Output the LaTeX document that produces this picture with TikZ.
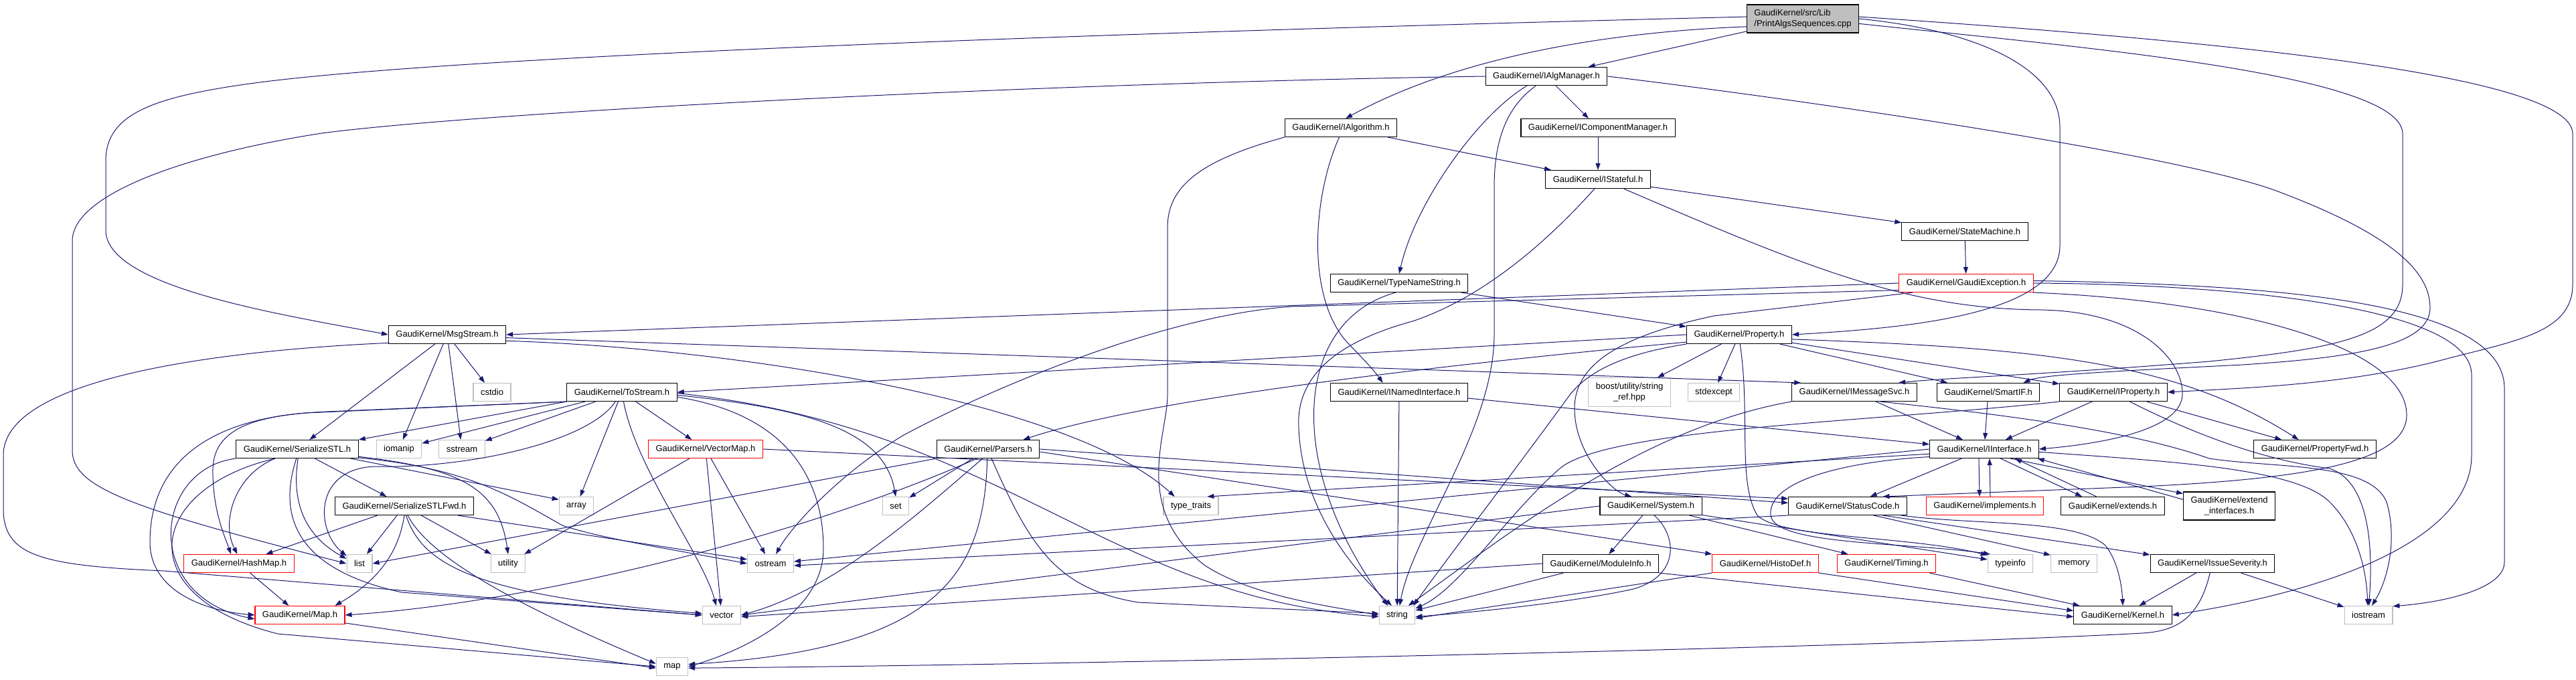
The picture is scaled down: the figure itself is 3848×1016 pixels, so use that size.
\documentclass[tikz,border=0pt]{standalone}
\usepackage{fontspec}
\setmainfont{Liberation Sans}
\usetikzlibrary{arrows.meta}
\definecolor{eblue}{HTML}{191970}
\definecolor{gborder}{HTML}{BFBFBF}
\begin{document}
\begin{tikzpicture}[x=1pt,y=-1pt,
 nd/.style={draw=black,line width=1.1pt,rectangle,inner xsep=11pt,inner ysep=0pt,minimum height=27pt,font=\fontsize{13}{16}\selectfont},
 rd/.style={nd,draw=red},
 gy/.style={nd,draw=gborder},
 e/.style={draw=eblue,line width=1pt,-{Triangle[length=10pt,width=7pt]}}]
\useasboundingbox (0,0) rectangle (3848,1016);
% ---------- nodes ----------
\node[nd,fill=gborder,minimum height=42pt,align=left] (root) at (2693,28) {GaudiKernel/src/Lib\\/PrintAlgsSequences.cpp};
\node[nd] (IAlgManager) at (2310,114) {GaudiKernel/IAlgManager.h};
\node[nd] (IAlgorithm) at (2003,191) {GaudiKernel/IAlgorithm.h};
\node[nd] (ICompMgr) at (2387,191) {GaudiKernel/IComponentManager.h};
\node[nd] (IStateful) at (2387,268) {GaudiKernel/IStateful.h};
\node[nd] (StateMachine) at (2935,346) {GaudiKernel/StateMachine.h};
\node[nd] (TypeNameString) at (2090,423) {GaudiKernel/TypeNameString.h};
\node[rd] (GaudiException) at (2937,423) {GaudiKernel/GaudiException.h};
\node[nd] (MsgStream) at (668,500) {GaudiKernel/MsgStream.h};
\node[nd] (Property) at (2598,500) {GaudiKernel/Property.h};
\node[gy] (cstdio) at (735,586) {cstdio};
\node[nd] (ToStream) at (929,586) {GaudiKernel/ToStream.h};
\node[nd] (INamedInterface) at (2090,586) {GaudiKernel/INamedInterface.h};
\node[gy,minimum height=43pt,align=center] (boost) at (2434,586) {boost/utility/string\\\_ref.hpp};
\node[gy] (stdexcept) at (2560,586) {stdexcept};
\node[nd] (IMessageSvc) at (2770,586) {GaudiKernel/IMessageSvc.h};
\node[nd] (SmartIF) at (2970,586) {GaudiKernel/SmartIF.h};
\node[nd] (IProperty) at (3157,586) {GaudiKernel/IProperty.h};
\node[nd] (SerializeSTL) at (444,671) {GaudiKernel/SerializeSTL.h};
\node[gy] (iomanip) at (596,671) {iomanip};
\node[gy] (sstream) at (690,671) {sstream};
\node[rd] (VectorMap) at (1054,671) {GaudiKernel/VectorMap.h};
\node[nd] (Parsers) at (1476,671) {GaudiKernel/Parsers.h};
\node[nd] (IInterface) at (2964,671) {GaudiKernel/IInterface.h};
\node[nd] (PropertyFwd) at (3458,671) {GaudiKernel/PropertyFwd.h};
\node[nd] (SerializeSTLFwd) at (604,756) {GaudiKernel/SerializeSTLFwd.h};
\node[gy] (array) at (861,756) {array};
\node[gy] (set) at (1338,756) {set};
\node[gy] (typetraits) at (1779,756) {type\_traits};
\node[nd] (System) at (2466,756) {GaudiKernel/System.h};
\node[nd] (StatusCode) at (2760,756) {GaudiKernel/StatusCode.h};
\node[rd] (implements) at (2965,756) {GaudiKernel/implements.h};
\node[nd] (extends) at (3156,756) {GaudiKernel/extends.h};
\node[nd,minimum height=42pt,align=center] (extendif) at (3330,756) {GaudiKernel/extend\\\_interfaces.h};
\node[rd] (HashMap) at (357,842) {GaudiKernel/HashMap.h};
\node[gy] (list) at (537,842) {list};
\node[gy] (utility) at (759,842) {utility};
\node[gy] (ostream) at (1151,842) {ostream};
\node[nd] (ModuleInfo) at (2391,842) {GaudiKernel/ModuleInfo.h};
\node[rd] (HistoDef) at (2637,842) {GaudiKernel/HistoDef.h};
\node[rd] (Timing) at (2818,842) {GaudiKernel/Timing.h};
\node[gy] (typeinfo) at (3003,842) {typeinfo};
\node[gy] (memory) at (3098,842) {memory};
\node[nd] (IssueSeverity) at (3305,842) {GaudiKernel/IssueSeverity.h};
\node[rd] (Map) at (448,919) {GaudiKernel/Map.h};
\node[gy] (vector) at (1078,919) {vector};
\node[gy] (string) at (2087,919) {string};
\node[nd] (Kernel) at (3171,919) {GaudiKernel/Kernel.h};
\node[gy] (iostream) at (3538,919) {iostream};
\node[gy] (map) at (1004,996) {map};
% ---------- root ----------
\draw[e] (root) -- (IAlgManager);
\draw[e] (root.188) .. controls (2350,50) and (2150,100) .. (IAlgorithm.63);
\draw[e] (root.178) .. controls (1800,45) and (700,80) .. (373,125) .. controls (230,145) and (158,170) .. (158,240) -- (158,347) .. controls (165,430) and (420,470) .. (MsgStream.west);
\draw[e] (root.east) .. controls (2950,45) and (3077,100) .. (3077,190) -- (3077,367) .. controls (3077,470) and (2850,490) .. (Property.east);
\draw[e] (root.-5) .. controls (3100,70) and (3589,110) .. (3589,200) -- (3589,425) .. controls (3589,500) and (3500,520) .. (3300,540) .. controls (3050,560) and (2900,565) .. (IMessageSvc.12);
\draw[e] (root.2) .. controls (3300,60) and (3843,110) .. (3843,200) -- (3843,425) .. controls (3843,500) and (3750,510) .. (3640,540) .. controls (3500,575) and (3350,580) .. (IProperty.east);
% ---------- IAlgManager ----------
\draw[e] (IAlgManager) -- (ICompMgr);
\draw[e] (IAlgManager.206) .. controls (2210,170) and (2115,300) .. (TypeNameString.north);
\draw[e] (IAlgManager.222) .. controls (2250,160) and (2232,210) .. (2232,280) -- (2232,500) .. controls (2232,640) and (2110,800) .. (string.75);
\draw[e] (IAlgManager.west) .. controls (1500,125) and (700,170) .. (481,199) .. controls (280,230) and (108,290) .. (108,360) -- (108,673) .. controls (108,730) and (200,760) .. (list.west);
\draw[e] (IAlgManager.east) .. controls (2700,150) and (3250,230) .. (3400,285) .. controls (3560,345) and (3630,400) .. (3630,460) .. controls (3630,520) and (3500,535) .. (3350,545) .. controls (3150,555) and (3050,560) .. (SmartIF.15);
% ---------- IAlgorithm ----------
\draw[e] (IAlgorithm) -- (IStateful);
\draw[e] (IAlgorithm.260) .. controls (1962,290) and (1950,440) .. (2011,510) .. controls (2030,530) and (2050,550) .. (INamedInterface.150);
\draw[e] (IAlgorithm.south west) .. controls (1790,240) and (1744,280) .. (1744,340) -- (1744,590) .. controls (1744,650) and (1690,760) .. (1800,845) .. controls (1870,890) and (1980,905) .. (string.west);
\draw[e] (ICompMgr) -- (IStateful);
% ---------- IStateful ----------
\draw[e] (IStateful) -- (StateMachine);
\draw[e] (IStateful.-20) .. controls (2700,400) and (2850,462) .. (3050,463) .. controls (3200,466) and (3262,540) .. (3260,590) .. controls (3258,640) and (3150,662) .. (IInterface.east);
\draw[e] (IStateful.250) .. controls (2330,340) and (2230,440) .. (2110,480) .. controls (2000,510) and (1935,560) .. (1940,640) .. controls (1945,760) and (2020,850) .. (string.120);
\draw[e] (StateMachine) -- (GaudiException);
% ---------- GaudiException ----------
\draw[e] (GaudiException.west) -- (MsgStream.east);
\draw[e] (GaudiException.186) -- (1930,458) .. controls (1750,470) and (1500,570) .. (1350,650) .. controls (1250,710) and (1180,790) .. (ostream.60);
\draw[e] (GaudiException.190) -- (2560,472) .. controls (2430,500) and (2352,540) .. (2352,610) .. controls (2352,680) and (2410,735) .. (System.154);
\draw[e] (GaudiException.east) .. controls (3350,425) and (3692,460) .. (3692,560) -- (3692,680) .. controls (3692,800) and (3500,880) .. (Kernel.east);
\draw[e] (GaudiException.2) .. controls (3400,425) and (3741,450) .. (3741,580) -- (3741,840) .. controls (3741,880) and (3650,900) .. (iostream.20);
\draw[e] (GaudiException.-8) .. controls (3350,450) and (3595,520) .. (3595,620) .. controls (3595,690) and (3450,715) .. (3200,727) -- (StatusCode.15);
% ---------- TypeNameString ----------
\draw[e] (TypeNameString) -- (Property);
\draw[e] (TypeNameString.250) .. controls (1930,480) and (1920,700) .. (string.135);
% ---------- MsgStream ----------
\draw[e] (MsgStream) -- (cstdio);
\draw[e] (MsgStream) -- (sstream);
\draw[e] (MsgStream) -- (iomanip);
\draw[e] (MsgStream) -- (SerializeSTL);
\draw[e] (MsgStream.188) .. controls (300,525) and (5,570) .. (5,680) -- (5,760) .. controls (5,830) and (60,845) .. (245,853) -- (vector.west);
\draw[e] (MsgStream.-3) -- (IMessageSvc.170);
\draw[e] (MsgStream.-6) .. controls (1100,520) and (1600,600) .. (typetraits.150);
% ---------- Property ----------
\draw[e] (Property.west) -- (ToStream.east);
\draw[e] (Property.188) .. controls (2100,550) and (1700,600) .. (Parsers.15);
\draw[e] (Property) -- (boost);
\draw[e] (Property) -- (stdexcept);
\draw[e] (Property) -- (SmartIF);
\draw[e] (Property) -- (IProperty);
\draw[e] (Property.-5) .. controls (3050,520) and (3250,540) .. (PropertyFwd.150);
\draw[e] (Property.south west) .. controls (2450,525) and (2380,545) .. (2345,590) .. controls (2250,720) and (2150,850) .. (string.30);
\draw[e] (Property.275) .. controls (2615,620) and (2595,720) .. (2625,770) .. controls (2660,805) and (2850,800) .. (typeinfo.160);
% ---------- ToStream ----------
\draw[e] (ToStream) -- (sstream);
\draw[e] (ToStream) -- (iomanip);
\draw[e] (ToStream.south west) -- (SerializeSTL.north east);
\draw[e] (ToStream.south west) -- (489,615) .. controls (380,620) and (320,640) .. (318,700) .. controls (317,760) and (335,800) .. (HashMap.130);
\draw[e] (ToStream.south west) -- (456,617) .. controls (300,630) and (224,700) .. (224,810) .. controls (224,880) and (300,912) .. (Map.west);
\draw[e] (ToStream.235) .. controls (880,660) and (700,700) .. (560,697) .. controls (470,700) and (470,790) .. (list.150);
\draw[e] (ToStream) -- (array);
\draw[e] (ToStream.-80) .. controls (950,700) and (1050,830) .. (vector.120);
\draw[e] (ToStream) -- (VectorMap);
\draw[e] (ToStream.-5) .. controls (1180,620) and (1230,720) .. (1230,820) .. controls (1230,920) and (1100,975) .. (map.east);
\draw[e] (ToStream.-3) .. controls (1200,610) and (1320,640) .. (set.north);
\draw[e] (ToStream.-1) .. controls (1500,640) and (1650,890) .. (string.185);
% ---------- SerializeSTL ----------
\draw[e] (SerializeSTL) -- (SerializeSTLFwd);
\draw[e] (SerializeSTL.203) .. controls (350,710) and (330,780) .. (HashMap.100);
\draw[e] (SerializeSTL.south west) .. controls (230,700) and (210,890) .. (Map.185);
\draw[e] (SerializeSTL.203) .. controls (220,730) and (190,890) .. (415,947) -- (map.west);
\draw[e] (SerializeSTL.265) .. controls (415,770) and (440,850) .. (600,885) -- (vector.west);
\draw[e] (SerializeSTL.275) .. controls (435,750) and (455,800) .. (list.160);
\draw[e] (SerializeSTL.-10) -- (array.160);
\draw[e] (SerializeSTL.-8) .. controls (700,700) and (760,740) .. (840,785) .. controls (900,805) and (1000,820) .. (ostream.west);
\draw[e] (SerializeSTL.-7) .. controls (690,700) and (745,730) .. (utility.north);
% ---------- SerializeSTLFwd ----------
\draw[e] (SerializeSTLFwd) -- (HashMap);
\draw[e] (SerializeSTLFwd) -- (list);
\draw[e] (SerializeSTLFwd) -- (utility);
\draw[e] (SerializeSTLFwd.-10) -- (ostream.170);
\draw[e] (SerializeSTLFwd.south) .. controls (595,830) and (560,870) .. (Map.15);
\draw[e] (SerializeSTLFwd.-80) .. controls (630,840) and (700,890) .. (vector.175);
\draw[e] (SerializeSTLFwd.-70) .. controls (640,830) and (760,900) .. (map.170);
\draw[e] (HashMap) -- (Map);
\draw[e] (Map.-10) -- (map.185);
% ---------- VectorMap ----------
\draw[e] (VectorMap) -- (utility);
\draw[e] (VectorMap) -- (vector);
\draw[e] (VectorMap) -- (ostream);
\draw[e] (VectorMap.east) -- (StatusCode.173);
% ---------- Parsers ----------
\draw[e] (Parsers) -- (set);
\draw[e] (Parsers.south west) -- (list.east);
\draw[e] (Parsers.240) .. controls (1380,760) and (1250,880) .. (vector.east);
\draw[e] (Parsers.265) .. controls (1470,860) and (1400,970) .. (map.8);
\draw[e] (Parsers.-70) .. controls (1540,820) and (1580,880) .. (1700,900) -- (string.175);
\draw[e] (Parsers.220) .. controls (1200,800) and (800,900) .. (Map.east);
\draw[e] (Parsers.east) -- (StatusCode.177);
\draw[e] (Parsers.-3) -- (HistoDef.170);
% ---------- interfaces ----------
\draw[e] (INamedInterface) -- (string);
\draw[e] (INamedInterface.-5) -- (IInterface.175);
\draw[e] (IMessageSvc) -- (IInterface);
\draw[e] (IMessageSvc.south west) .. controls (2450,640) and (2250,800) .. (string.40);
\draw[e] (IMessageSvc.-20) .. controls (3050,625) and (3200,650) .. (3300,685) .. controls (3400,700) and (3540,690) .. (3565,750) .. controls (3580,800) and (3570,860) .. (iostream.70);
\draw[e] (SmartIF) -- (IInterface);
\draw[e] (IProperty) -- (IInterface);
\draw[e] (IProperty) -- (PropertyFwd);
\draw[e] (IProperty.south west) .. controls (2800,630) and (2400,640) .. (2330,700) .. controls (2250,770) and (2180,880) .. (string.20);
\draw[e] (IProperty.-30) .. controls (3300,660) and (3400,690) .. (3480,700) .. controls (3540,720) and (3545,820) .. (iostream.88);
% ---------- IInterface ----------
\draw[e] (IInterface) -- (StatusCode);
\draw[e] ([xshift=-8pt]IInterface.south) -- ([xshift=-8pt]implements.north);
\draw[e] ([xshift=8pt]implements.north) -- ([xshift=8pt]IInterface.south);
\draw[e] (IInterface.-30) -- (extends.163);
\draw[e] (extends.150) -- (IInterface.-17);
\draw[e] (IInterface.-20) -- (extendif.165);
\draw[e] (extendif.172) -- (IInterface.-10);
\draw[e] (IInterface.west) -- (ostream.5);
\draw[e] (IInterface.185) -- (typetraits.30);
\draw[e] (IInterface.188) .. controls (2750,690) and (2640,720) .. (2645,770) .. controls (2650,815) and (2850,810) .. (typeinfo.155);
\draw[e] (IInterface.-3) .. controls (3250,690) and (3430,700) .. (3480,750) .. controls (3520,790) and (3535,850) .. (iostream.95);
% ---------- System ----------
\draw[e] (System) -- (ModuleInfo);
\draw[e] (System) -- (Timing);
\draw[e] (System.-10) -- (typeinfo.170);
\draw[e] (System.-70) .. controls (2505,800) and (2510,860) .. (2440,880) .. controls (2350,900) and (2200,915) .. (string.-5);
\draw[e] (System.west) -- (vector.east);
% ---------- StatusCode ----------
\draw[e] (StatusCode.south west) -- (ostream.-5);
\draw[e] (StatusCode.-20) -- (memory.160);
\draw[e] (StatusCode.-15) -- (IssueSeverity.172);
\draw[e] (StatusCode.-10) .. controls (2950,785) and (3100,775) .. (3145,815) .. controls (3165,840) and (3170,880) .. (Kernel.north);
% ---------- lower ----------
\draw[e] (ModuleInfo.south east) -- (Kernel.182);
\draw[e] (ModuleInfo) -- (string);
\draw[e] (ModuleInfo.west) -- (vector.-5);
\draw[e] (HistoDef.south west) -- (string.-10);
\draw[e] (HistoDef.south east) -- (Kernel.175);
\draw[e] (Timing) -- (Kernel);
\draw[e] (IssueSeverity) -- (Kernel);
\draw[e] (IssueSeverity) -- (iostream);
\draw[e] (IssueSeverity.255) .. controls (3285,925) and (3250,943) .. (3200,946) .. controls (2800,968) and (1500,995) .. (map.-5);
\end{tikzpicture}
\end{document}
